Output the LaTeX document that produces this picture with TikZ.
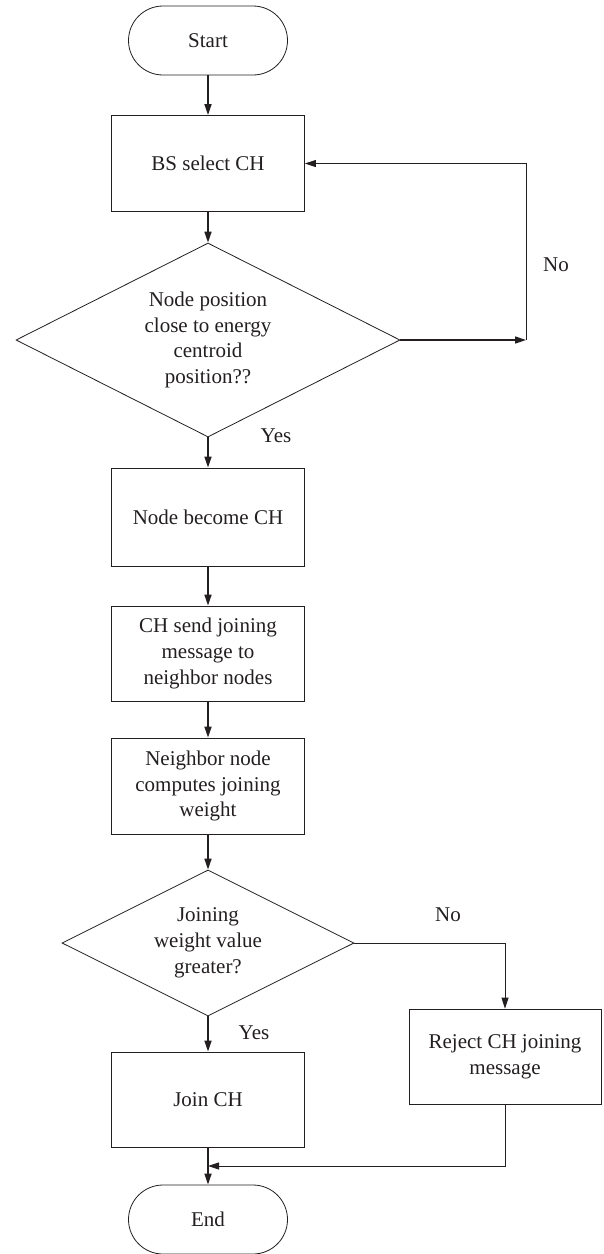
\documentclass[tikz,border=0pt]{standalone}
\usepackage{fontspec}
\setmainfont{Liberation Serif}
\usetikzlibrary{shapes.geometric,arrows.meta}
\definecolor{ink}{HTML}{231F20}
\begin{document}
\begin{tikzpicture}[x=1pt,y=-1pt,
  txt/.style={font=\fontsize{21pt}{25.7pt}\selectfont, text=ink},
  box/.style={txt, draw=ink, line width=0.8pt, minimum width=193pt, minimum height=96pt, inner sep=0pt, align=center},
  term/.style={txt, draw=ink, line width=0.8pt, rounded corners=34.5pt, minimum width=159pt, minimum height=69pt, inner sep=0pt},
  dec/.style={txt, diamond, draw=ink, line width=0.8pt, shape aspect=2, inner sep=0pt, align=center},
  flow/.style={draw=ink, line width=1.6pt, -{Triangle[length=11pt,width=7pt]}},
  thinflow/.style={draw=ink, line width=0.9pt, -{Triangle[length=11pt,width=7pt]}},
  lbl/.style={txt, inner sep=0pt}]
\useasboundingbox (0,0) rectangle (604,1254);

\node[term] (start) at (208,40.5) {Start};
\node[box] (bs) at (208,163.5) {BS select CH};
\node[dec, minimum width=384pt, minimum height=194pt] (d1) at (208,340)
  {Node position\\close to energy\\centroid\\position??};
\node[box, minimum height=98pt] (nb) at (208,517) {Node become CH};
\node[box, minimum height=95pt] (cs) at (208,653.5) {CH send joining\\message to\\neighbor nodes};
\node[box] (nn) at (208,786) {Neighbor node\\computes joining\\weight};
\node[dec, minimum width=292pt, minimum height=146pt] (d2) at (208,943)
  {Joining\\weight value\\greater?};
\node[box, minimum height=95pt] (join) at (208,1099.5) {Join CH};
\node[box, minimum width=192pt, minimum height=95pt] (rej) at (505,1056.5) {Reject CH joining\\message};
\node[term] (end) at (208,1219.5) {End};

\node[lbl] (no1) at (556,265) {No};
\node[lbl] (yes1) at (276,436) {Yes};
\node[lbl] (no2) at (448,915) {No};
\node[lbl] (yes2) at (254,1033) {Yes};

\coordinate (c1) at (526,340);
\coordinate (m) at (208,1166);

\draw[flow] (start.south) -- (bs.north);
\draw[flow] (bs.south) -- (d1.north);
\draw[flow] (d1.south) -- (nb.north);
\draw[flow] (nb.south) -- (cs.north);
\draw[flow] (cs.south) -- (nn.north);
\draw[flow] (nn.south) -- (d2.north);
\draw[flow] (d2.south) -- (join.north);
\draw[flow] (join.south) -- (end.north);

\draw[flow] (d1.east) -- (c1);
\draw[thinflow] (c1) |- (bs.east);
\draw[thinflow] (d2.east) -| (rej.north);
\draw[thinflow] (rej.south) |- (m);
\end{tikzpicture}
\end{document}
